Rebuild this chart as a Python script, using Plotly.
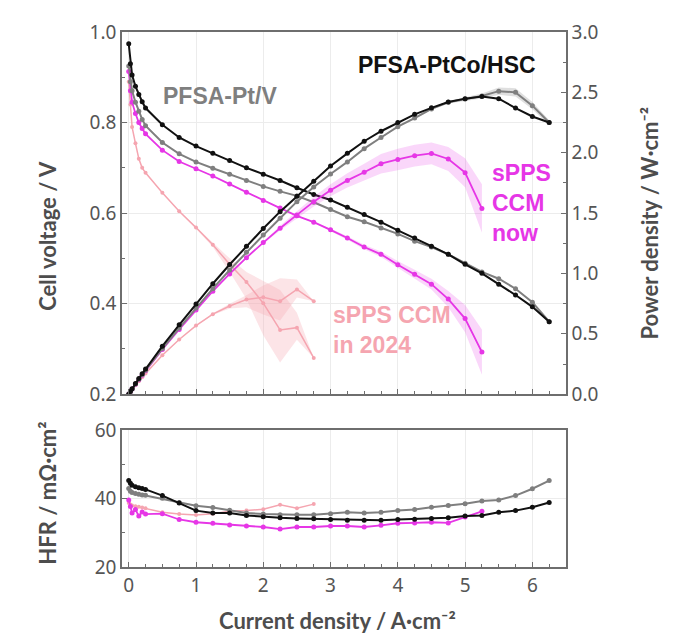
import plotly.graph_objects as go

# current density steps (A/cm2)
j_full = [0, 0.025, 0.05, 0.1, 0.15, 0.2, 0.25, 0.5, 0.75, 1.0, 1.25, 1.5, 1.75, 2.0, 2.25, 2.5,
          2.75, 3.0, 3.25, 3.5, 3.75, 4.0, 4.25, 4.5, 4.75, 5.0, 5.25, 5.5, 5.75, 6.0, 6.25]
j_now = j_full[:27]
j_2024 = j_full[:17]

# PFSA-PtCo/HSC (black)
v_ptco = [0.974, 0.93, 0.905, 0.88, 0.862, 0.846, 0.832, 0.795, 0.767, 0.748, 0.732, 0.716, 0.70, 0.686,
          0.672, 0.656, 0.641, 0.629, 0.613, 0.597, 0.58, 0.562, 0.545, 0.527, 0.509, 0.487, 0.467,
          0.443, 0.419, 0.393, 0.36]
p_ptco = [0, 0.023, 0.045, 0.088, 0.129, 0.169, 0.208, 0.398, 0.575, 0.748, 0.915, 1.074, 1.225, 1.372,
          1.512, 1.640, 1.763, 1.89, 1.995, 2.095, 2.178, 2.25, 2.318, 2.372, 2.42, 2.448, 2.465,
          2.448, 2.37, 2.30, 2.25]
hfr_ptco = [45.3, 44.5, 43.9, 43.5, 43.2, 43.0, 42.7, 40.9, 38.7, 36.5, 35.8, 35.8, 35.1, 34.7, 34.4,
            34.2, 34.1, 33.9, 33.7, 33.7, 33.7, 33.9, 34.0, 34.2, 34.4, 34.9, 35.1, 36.0, 36.5, 37.5, 38.9]

# PFSA-Pt/V (grey)
v_pt = [0.925, 0.89, 0.87, 0.845, 0.825, 0.807, 0.793, 0.756, 0.731, 0.713, 0.699, 0.686, 0.672, 0.659,
        0.648, 0.638, 0.624, 0.608, 0.592, 0.581, 0.567, 0.554, 0.538, 0.525, 0.509, 0.489, 0.47,
        0.455, 0.433, 0.403, 0.36]
p_pt = [0, 0.022, 0.044, 0.085, 0.124, 0.161, 0.198, 0.378, 0.548, 0.713, 0.874, 1.029, 1.176, 1.318,
        1.458, 1.595, 1.716, 1.824, 1.924, 2.034, 2.126, 2.216, 2.287, 2.363, 2.418, 2.445, 2.47,
        2.51, 2.50, 2.39, 2.25]
hfr_pt = [43.0, 42.2, 41.8, 41.5, 41.3, 41.1, 41.0, 40.1, 38.9, 37.9, 37.4, 36.6, 35.8, 35.5, 35.3,
          35.3, 35.3, 35.6, 36.0, 35.8, 36.0, 36.5, 36.8, 37.5, 38.0, 38.5, 39.3, 39.6, 40.9, 42.9, 45.3]
p_pt_sd = [0]*21 + [0.005, 0.01, 0.01, 0.01, 0.015, 0.02, 0.03, 0.035, 0.03, 0.02]

# sPPS CCM now (magenta)
v_now = [0.913, 0.87, 0.845, 0.82, 0.80, 0.787, 0.775, 0.739, 0.714, 0.698, 0.682, 0.664, 0.646, 0.628,
         0.611, 0.594, 0.58, 0.563, 0.545, 0.525, 0.509, 0.486, 0.465, 0.443, 0.41, 0.367, 0.293]
p_now = [0, 0.022, 0.042, 0.082, 0.12, 0.157, 0.194, 0.37, 0.536, 0.698, 0.853, 0.996, 1.131, 1.256,
         1.375, 1.485, 1.595, 1.689, 1.771, 1.838, 1.909, 1.944, 1.976, 1.994, 1.948, 1.835, 1.538]
hfr_now = [39.6, 37.7, 35.8, 36.8, 34.9, 36.1, 35.5, 35.6, 33.9, 33.1, 32.8, 32.3, 32.0, 31.7, 31.1,
           31.7, 31.7, 32.0, 32.0, 31.7, 32.2, 32.8, 32.9, 33.1, 32.9, 34.6, 36.3]
v_now_sd = [0]*17 + [0.003, 0.004, 0.005, 0.006, 0.008, 0.01, 0.012, 0.018, 0.03, 0.05]
p_now_sd = [0]*13 + [0.01, 0.02, 0.03, 0.04, 0.05, 0.06, 0.07, 0.08, 0.09, 0.09, 0.09, 0.1, 0.12, 0.2]

# sPPS CCM in 2024 (pink)
v_2024 = [0.89, 0.84, 0.79, 0.754, 0.72, 0.70, 0.689, 0.645, 0.604, 0.568, 0.53, 0.487, 0.448, 0.401,
          0.342, 0.347, 0.28]
p_2024 = [0, 0.021, 0.04, 0.075, 0.108, 0.14, 0.172, 0.323, 0.453, 0.568, 0.663, 0.73, 0.784, 0.802,
          0.77, 0.868, 0.77]
hfr_2024 = [38.7, 38.3, 38.0, 37.8, 37.6, 37.4, 37.2, 36.0, 35.5, 35.2, 35.6, 36.3, 36.5, 36.9, 38.2,
            37.2, 38.4]
v_2024_hi = [0.89, 0.84, 0.79, 0.754, 0.72, 0.70, 0.689, 0.645, 0.604, 0.57, 0.535, 0.50, 0.47, 0.45,
             0.43, 0.38, 0.28]
v_2024_lo = [0.89, 0.84, 0.79, 0.754, 0.72, 0.70, 0.689, 0.645, 0.604, 0.566, 0.525, 0.47, 0.41, 0.33,
             0.27, 0.32, 0.28]
p_2024_hi = [0, 0.021, 0.04, 0.075, 0.108, 0.14, 0.172, 0.323, 0.453, 0.57, 0.67, 0.75, 0.82, 0.90,
             0.96, 0.95, 0.77]
p_2024_lo = [0, 0.021, 0.04, 0.075, 0.108, 0.14, 0.172, 0.323, 0.453, 0.566, 0.656, 0.71, 0.72, 0.66,
             0.61, 0.80, 0.77]

BLACK = "#111111"
GREY = "#7f7f7f"
MAGENTA = "#e636e6"
PINK = "#f5a5b0"
AX = "#6e6e6e"
TXT = "#4d4d4d"

fig = go.Figure()


def band(x, lo, hi, color, ya):
    fig.add_trace(go.Scatter(x=list(x) + list(x)[::-1], y=list(hi) + list(lo)[::-1], fill="toself",
                             fillcolor=color, line=dict(width=0), mode="lines", hoverinfo="skip",
                             showlegend=False, xaxis="x2", yaxis=ya))


def curve(x, y, color, width, msize, xa, ya):
    fig.add_trace(go.Scatter(x=x, y=y, mode="lines+markers", line=dict(color=color, width=width),
                             marker=dict(color=color, size=msize), showlegend=False, xaxis=xa, yaxis=ya))


# shaded bands
band(j_2024, v_2024_lo, v_2024_hi, "rgba(245,165,176,0.3)", "y2")
band(j_2024, p_2024_lo, p_2024_hi, "rgba(245,165,176,0.3)", "y3")
band(j_now, [a - b for a, b in zip(v_now, v_now_sd)], [a + b for a, b in zip(v_now, v_now_sd)],
     "rgba(230,54,230,0.2)", "y2")
band(j_now, [a - b for a, b in zip(p_now, p_now_sd)], [a + b for a, b in zip(p_now, p_now_sd)],
     "rgba(230,54,230,0.2)", "y3")
band(j_full, [a - b for a, b in zip(p_pt, p_pt_sd)], [a + b for a, b in zip(p_pt, p_pt_sd)],
     "rgba(127,127,127,0.25)", "y3")

# polarisation + power curves
curve(j_2024, v_2024, PINK, 1.5, 4, "x2", "y2")
curve(j_2024, p_2024, PINK, 1.5, 4, "x2", "y3")
curve(j_now, v_now, MAGENTA, 1.8, 5, "x2", "y2")
curve(j_now, p_now, MAGENTA, 1.8, 5, "x2", "y3")
curve(j_full, v_pt, GREY, 2, 5, "x2", "y2")
curve(j_full, p_pt, GREY, 2, 5, "x2", "y3")
curve(j_full, v_ptco, BLACK, 2, 5, "x2", "y2")
curve(j_full, p_ptco, BLACK, 2, 5, "x2", "y3")

# HFR panel
curve(j_2024, hfr_2024, PINK, 1.5, 4, "x", "y")
curve(j_now, hfr_now, MAGENTA, 1.8, 5, "x", "y")
curve(j_full, hfr_pt, GREY, 2, 5, "x", "y")
curve(j_full, hfr_ptco, BLACK, 2, 5, "x", "y")

tickfont = dict(family="Noto Sans", size=19, color="#555555")
common = dict(showline=True, linecolor=AX, linewidth=1.5, ticks="inside", ticklen=5, tickcolor=AX,
              tickfont=tickfont, zeroline=False, gridcolor="#ececec")

fig.update_layout(
    width=688, height=635, plot_bgcolor="white", paper_bgcolor="white",
    margin=dict(l=114, r=130, t=11, b=76),
    xaxis=dict(domain=[0, 1], anchor="y", range=[-0.1, 6.5], dtick=1, mirror=True, showgrid=True,
               minor=dict(dtick=0.25, ticks="inside", ticklen=3, tickcolor=AX), **common),
    yaxis=dict(domain=[0, 0.2555], anchor="x", range=[20, 60], dtick=20, mirror=True, showgrid=True,
               minor=dict(dtick=10, ticks="inside", ticklen=3, tickcolor=AX), **common),
    xaxis2=dict(domain=[0, 1], anchor="y2", matches="x", range=[-0.1, 6.5], dtick=1, mirror=True,
                showticklabels=False, showgrid=True,
                minor=dict(dtick=0.25, ticks="inside", ticklen=3, tickcolor=AX), **common),
    yaxis2=dict(domain=[0.323, 1], anchor="x2", range=[0.2, 1.0], dtick=0.2, tickformat=".1f",
                showgrid=True, minor=dict(dtick=0.1, ticks="inside", ticklen=3, tickcolor=AX), **common),
    yaxis3=dict(overlaying="y2", anchor="x2", side="right", range=[0, 3], dtick=0.5, tickformat=".1f",
                showgrid=False, minor=dict(dtick=0.25, ticks="inside", ticklen=3, tickcolor=AX), **common),
)

title_font = dict(family="Lato", size=22, color=TXT)
label_font = dict(family="Liberation Sans", size=23)
fig.add_annotation(text="<b>Cell voltage / V</b>", xref="paper", yref="paper", x=0, y=0.619, xshift=-74,
                   xanchor="center", yanchor="middle", textangle=-90, showarrow=False, font=title_font)
fig.add_annotation(text="<b>HFR / mΩ·cm²</b>", xref="paper", yref="paper", x=0, y=0.137, xshift=-74,
                   xanchor="center", yanchor="middle", textangle=-90, showarrow=False, font=title_font)
fig.add_annotation(text="<b>Power density / W·cm⁻²</b>", xref="paper", yref="paper", x=1, y=0.642,
                   xshift=84, xanchor="center", yanchor="middle", textangle=-90, showarrow=False,
                   font=title_font)
fig.add_annotation(text="<b>Current density / A·cm⁻²</b>", xref="paper", yref="paper", x=0.5, y=0,
                   xshift=-7, yshift=-53, xanchor="center", yanchor="middle", showarrow=False,
                   font=title_font)

fig.add_annotation(text="<b>PFSA-Pt/V</b>", xref="x2", yref="y2", x=0.476, y=0.858, xanchor="left",
                   showarrow=False, font=dict(color=GREY, **label_font))
fig.add_annotation(text="<b>PFSA-PtCo/HSC</b>", xref="x2", yref="y2", x=3.38, y=0.927, xanchor="left",
                   showarrow=False, font=dict(color=BLACK, **label_font))
fig.add_annotation(text="<b>sPPS<br>CCM<br>now</b>", xref="x2", yref="y2", x=5.37, y=0.623,
                   xanchor="left", align="left", showarrow=False, font=dict(color=MAGENTA, **label_font))
fig.add_annotation(text="<b>sPPS CCM<br>in 2024</b>", xref="x2", yref="y2", x=3.0, y=0.342,
                   xanchor="left", align="left", showarrow=False, font=dict(color=PINK, **label_font))

fig.write_html("out.html")
